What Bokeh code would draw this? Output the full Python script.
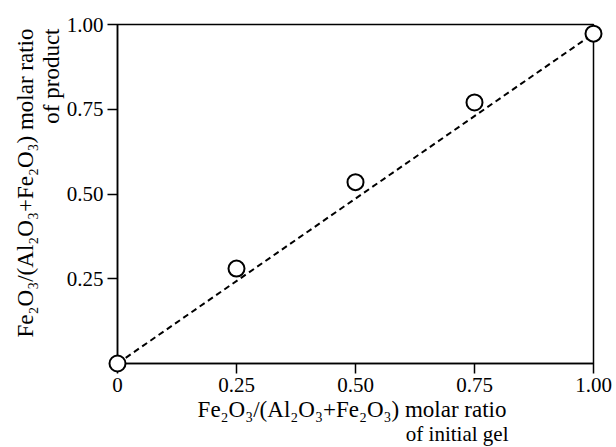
from bokeh.plotting import figure
from bokeh.models import Range1d, FixedTicker, Title
from bokeh.embed import file_html
from bokeh.resources import INLINE

# data
gel_ratio = [0.0, 0.25, 0.50, 0.75, 1.00]
product_ratio = [0.0, 0.28, 0.535, 0.77, 0.973]
fit_x = [0.0, 1.0]
fit_y = [0.0, 0.973]
x_ticks = [0.0, 0.25, 0.5, 0.75, 1.0]
x_tick_labels = ["0", "0.25", "0.50", "0.75", "1.00"]
y_ticks = [0.25, 0.5, 0.75, 1.0]
y_tick_labels = ["0.25", "0.50", "0.75", "1.00"]
label_main = "Fe₂O₃/(Al₂O₃+Fe₂O₃) molar ratio"
x_label_2 = "of initial gel"
y_label_2 = "of product"

FONT = "Liberation Serif"

p = figure(width=616, height=447, output_backend="svg", toolbar_location=None,
           x_range=Range1d(0, 1), y_range=Range1d(0, 1),
           min_border_left=117, min_border_top=24, min_border_right=23, min_border_bottom=84,
           frame_width=476, frame_height=339)
p.background_fill_color = "white"
p.border_fill_color = "white"
p.outline_line_color = "black"
p.outline_line_width = 1.5
p.grid.visible = False

for ax, ticks, labels in ((p.xaxis[0], x_ticks, x_tick_labels), (p.yaxis[0], y_ticks, y_tick_labels)):
    ax.ticker = FixedTicker(ticks=ticks)
    ax.major_label_overrides = {t: l for t, l in zip(ticks, labels)}
    ax.minor_tick_line_color = None
    ax.major_tick_in = 0
    ax.major_tick_out = 10
    ax.major_tick_line_width = 1.5
    ax.major_tick_line_color = "black"
    ax.axis_line_width = 1.5
    ax.axis_line_color = "black"
    ax.major_label_text_font = FONT
    ax.major_label_text_font_size = "21px"
    ax.major_label_text_color = "black"
    ax.major_label_standoff = 4


def title_line(text, offset, standoff, size="23px"):
    return Title(text=text, align="right", offset=offset, standoff=standoff,
                 text_font=FONT, text_font_size=size, text_font_style="normal",
                 text_color="black")


# x-axis title: two lines, right-aligned
p.add_layout(title_line(label_main, 87, 0, "23px"), "below")
p.add_layout(title_line(x_label_2, 85, -4, "21px"), "below")
# y-axis title: "of product" nearer the ticks, main line further out
p.add_layout(title_line(y_label_2, 4, 0), "left")
p.add_layout(title_line(label_main, 4, -3), "left")

p.line(fit_x, fit_y, line_color="black", line_width=2, line_dash="6 4")
p.scatter(gel_ratio, product_ratio, marker="circle", size=16, fill_color="white",
          line_color="black", line_width=2, level="overlay")

open("out.html", "w").write(file_html(p, INLINE))
